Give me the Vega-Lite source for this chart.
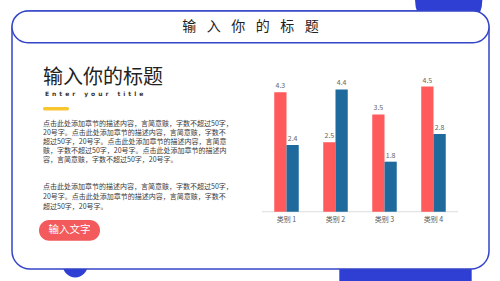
{
  "$schema": "https://vega.github.io/schema/vega-lite/v6.json",
  "width": 477,
  "height": 258,
  "autosize": {"type": "none"},
  "padding": {"left": 12, "top": 11, "right": 11, "bottom": 12},
  "background": "#ffffff",
  "config": {
    "view": {"stroke": null},
    "font": "Noto Sans CJK SC",
    "text": {"font": "Noto Sans CJK SC"}
  },
  "resolve": {"scale": {"x": "independent", "y": "independent", "color": "independent"}},
  "layer": [
    {
      "data": {"values": [
        {"role": "title", "text": "输\u2002\u2005入\u2002\u2005你\u2002\u2005的\u2002\u2005标\u2002\u2005题"},
        {"role": "heading", "text": "输入你的标题"},
        {"role": "subtitle", "text": "E\u2002n\u2002t\u2002e\u2002r\u2002\u2002\u2002y\u2002o\u2002u\u2002r\u2002\u2002\u2002t\u2002i\u2002t\u2002l\u2002e"},
        {"role": "p1", "text": "点击此处添加章节的描述内容，言简意赅，字数不超过50字，\n20号字。点击此处添加章节的描述内容，言简意赅，字数不\n超过50字，20号字。点击此处添加章节的描述内容，言简意\n赅，字数不超过50字，20号字。点击此处添加章节的描述内\n容，言简意赅，字数不超过50字，20号字。"},
        {"role": "p2", "text": "点击此处添加章节的描述内容，言简意赅，字数不超过50字，\n20号字。点击此处添加章节的描述内容，言简意赅，字数不\n超过50字，20号字。"},
        {"role": "button", "text": "输入文字"}
      ]},
      "encoding": {
        "x": {"datum": 0, "type": "quantitative", "axis": null, "scale": {"domain": [0, 100], "nice": false, "zero": false}},
        "y": {"datum": 0, "type": "quantitative", "axis": null, "scale": {"domain": [0, 100], "nice": false, "zero": false, "reverse": true}}
      },
      "layer": [
        {
          "transform": [{"filter": "datum.role === 'title'"}],
          "mark": {"type": "point", "shape": "circle", "filled": true, "size": 4536, "color": "#2F3FD4", "opacity": 1},
          "encoding": {"x": {"datum": 91.55}, "y": {"datum": -4.26}}
        },
        {
          "transform": [{"filter": "datum.role === 'title'"}],
          "mark": {"type": "point", "shape": "circle", "filled": true, "size": 616, "color": "#2F3FD4", "opacity": 1},
          "encoding": {"x": {"datum": 13.25}, "y": {"datum": 98.45}}
        },
        {
          "transform": [{"filter": "datum.role === 'title'"}],
          "mark": {"type": "rect", "color": "#2F3FD4"},
          "encoding": {"x": {"datum": 68.62}, "x2": {"datum": 96.37}, "y": {"datum": 92.64}, "y2": {"datum": 108.14}}
        },
        {
          "transform": [{"filter": "datum.role === 'title'"}],
          "mark": {"type": "rect", "fill": "#ffffff", "stroke": "#3545C8", "strokeWidth": 1.5, "cornerRadius": 18},
          "encoding": {"x": {"datum": 0}, "x2": {"datum": 100}, "y": {"datum": 0}, "y2": {"datum": 100}}
        },
        {
          "transform": [{"filter": "datum.role === 'title'"}],
          "mark": {"type": "rect", "fill": "#ffffff", "stroke": "#3545C8", "strokeWidth": 1.5, "cornerRadius": 16},
          "encoding": {"x": {"datum": 0}, "x2": {"datum": 100}, "y": {"datum": 0}, "y2": {"datum": 12.29}}
        },
        {
          "transform": [{"filter": "datum.role === 'title'"}],
          "mark": {"type": "text", "fontSize": 14, "color": "#222222", "align": "center", "baseline": "middle"},
          "encoding": {"x": {"datum": 50}, "y": {"datum": 6.09}, "text": {"field": "text"}}
        },
        {
          "transform": [{"filter": "datum.role === 'heading'"}],
          "mark": {"type": "text", "fontSize": 20, "color": "#222222", "align": "left", "baseline": "middle"},
          "encoding": {"x": {"datum": 6.5}, "y": {"datum": 25.78}, "text": {"field": "text"}}
        },
        {
          "transform": [{"filter": "datum.role === 'subtitle'"}],
          "mark": {"type": "text", "fontSize": 6, "fontWeight": "bold", "color": "#333333", "align": "left", "baseline": "middle", "font": "DejaVu Sans"},
          "encoding": {"x": {"datum": 6.9}, "y": {"datum": 32.29}, "text": {"field": "text"}}
        },
        {
          "transform": [{"filter": "datum.role === 'heading'"}],
          "mark": {"type": "rect", "color": "#F8C630", "cornerRadius": 1.7},
          "encoding": {"x": {"datum": 6.5}, "x2": {"datum": 11.95}, "y": {"datum": 37.21}, "y2": {"datum": 38.57}}
        },
        {
          "transform": [{"filter": "datum.role === 'p1'"}],
          "mark": {"type": "text", "fontSize": 7, "color": "#3A3A3A", "align": "left", "baseline": "top", "lineBreak": "\n", "lineHeight": 9},
          "encoding": {"x": {"datum": 6.5}, "y": {"datum": 42.13}, "text": {"field": "text"}}
        },
        {
          "transform": [{"filter": "datum.role === 'p2'"}],
          "mark": {"type": "text", "fontSize": 7, "color": "#3A3A3A", "align": "left", "baseline": "top", "lineBreak": "\n", "lineHeight": 10},
          "encoding": {"x": {"datum": 6.5}, "y": {"datum": 66.55}, "text": {"field": "text"}}
        },
        {
          "transform": [{"filter": "datum.role === 'button'"}],
          "mark": {"type": "rect", "color": "#F25A5B", "cornerRadius": 10.3},
          "encoding": {"x": {"datum": 5.66}, "x2": {"datum": 18.45}, "y": {"datum": 81.01}, "y2": {"datum": 89.03}}
        },
        {
          "transform": [{"filter": "datum.role === 'button'"}],
          "mark": {"type": "text", "fontSize": 10.5, "color": "#ffffff", "align": "center", "baseline": "middle"},
          "encoding": {"x": {"datum": 12.05}, "y": {"datum": 85.0}, "text": {"field": "text"}}
        }
      ]
    },
    {
      "data": {"values": [
        {"category": "类别 1", "series": "系列1", "value": 4.3},
        {"category": "类别 1", "series": "系列2", "value": 2.4},
        {"category": "类别 2", "series": "系列1", "value": 2.5},
        {"category": "类别 2", "series": "系列2", "value": 4.4},
        {"category": "类别 3", "series": "系列1", "value": 3.5},
        {"category": "类别 3", "series": "系列2", "value": 1.8},
        {"category": "类别 4", "series": "系列1", "value": 4.5},
        {"category": "类别 4", "series": "系列2", "value": 2.8}
      ]},
      "encoding": {
        "x": {"field": "category", "type": "nominal", "sort": null, "axis": null,
              "scale": {"range": [250, 446], "paddingInner": 0, "paddingOuter": 0}},
        "y": {"field": "value", "type": "quantitative", "axis": null,
              "scale": {"domain": [-2.06, 7.22], "nice": false, "zero": false}}
      },
      "layer": [
        {
          "transform": [{"filter": "datum.series === '系列1'"}],
          "mark": {"type": "rule", "color": "#DDDDDD", "strokeWidth": 1},
          "encoding": {
            "x": {"field": "category", "type": "nominal", "sort": null, "bandPosition": 0},
            "x2": {"field": "category", "bandPosition": 1},
            "y": {"datum": 0}
          }
        },
        {
          "mark": {"type": "bar"},
          "encoding": {
            "xOffset": {"field": "series", "type": "nominal", "scale": {"paddingInner": 0, "paddingOuter": 1}},
            "color": {"field": "series", "type": "nominal", "legend": null, "scale": {"range": ["#FF5A5C", "#1F6A9C"]}}
          }
        },
        {
          "mark": {"type": "text", "baseline": "bottom", "dy": -3, "fontSize": 7, "color": "#666666"},
          "encoding": {
            "xOffset": {"field": "series", "type": "nominal"},
            "text": {"field": "value", "type": "quantitative", "format": ".1f"}
          }
        },
        {
          "transform": [{"filter": "datum.series === '系列1'"}],
          "mark": {"type": "text", "baseline": "middle", "fontSize": 7, "color": "#595959"},
          "encoding": {
            "y": {"datum": -0.3},
            "text": {"field": "category"}
          }
        }
      ]
    }
  ]
}
